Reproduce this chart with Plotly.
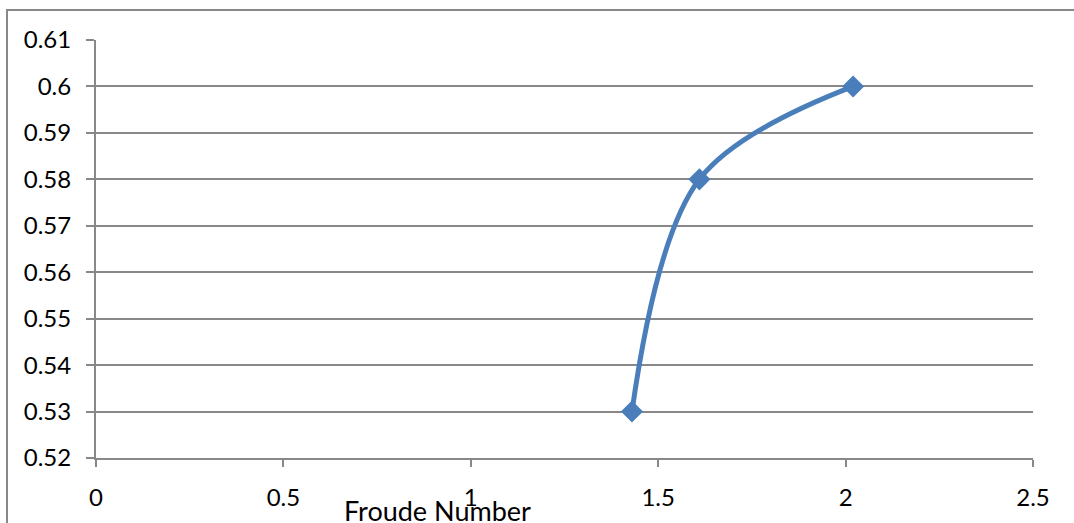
import plotly.graph_objects as go

# Froude number vs. coefficient
froude = [1.43, 1.61, 2.02]
coeff = [0.53, 0.58, 0.60]

x_ticks = [0, 0.5, 1, 1.5, 2, 2.5]
x_labels = ["0", "0.5", "1", "1.5", "2", "2.5"]
y_ticks = [0.52, 0.53, 0.54, 0.55, 0.56, 0.57, 0.58, 0.59, 0.60, 0.61]
y_labels = ["0.52", "0.53", "0.54", "0.55", "0.56", "0.57", "0.58", "0.59", "0.6", "0.61"]

W, H = 1074, 523
L, R, T, B = 96, 41, 40, 65
pw, ph = W - L - R, H - T - B

fig = go.Figure()
fig.add_trace(go.Scatter(
    x=froude, y=coeff, mode="lines+markers",
    line=dict(color="#4A7EBB", width=5, shape="spline", smoothing=1.0),
    marker=dict(symbol="diamond", size=17, color="#4A7EBB"),
    showlegend=False, cliponaxis=False,
))

grid = "#888888"
fam = "Lato, Open Sans, sans-serif"
tickfont = dict(family=fam, size=24, color="#000000")

fig.update_layout(
    width=W, height=H,
    margin=dict(l=L, r=R, t=T, b=B),
    paper_bgcolor="white", plot_bgcolor="white",
    font=tickfont,
    xaxis=dict(
        range=[0, 2.5], tickvals=x_ticks, ticktext=x_labels, tickfont=tickfont,
        showgrid=False, zeroline=False,
        showline=True, linecolor=grid, linewidth=2,
        ticks="outside", ticklen=7, tickwidth=2, tickcolor=grid,
        ticklabelstandoff=10,
    ),
    yaxis=dict(
        range=[0.52, 0.61], tickvals=y_ticks, ticktext=y_labels, tickfont=tickfont,
        showgrid=True, gridcolor=grid, gridwidth=2,
        zeroline=False,
        showline=True, linecolor=grid, linewidth=2,
        ticks="outside", ticklen=8, tickwidth=2, tickcolor=grid,
        ticklabelstandoff=10,
    ),
    annotations=[dict(
        text="Froude Number", xref="paper", yref="paper",
        x=(437 - L) / pw, y=-(510 - (H - B)) / ph,
        xanchor="center", yanchor="middle", showarrow=False,
        font=dict(family=fam, size=27, color="#000000"),
    )],
    shapes=[dict(
        type="rect", xref="paper", yref="paper",
        x0=(7 - L) / pw, x1=(W + 5 - L) / pw,
        y0=-(B + 5) / ph, y1=1 + (T - 10) / ph,
        line=dict(color=grid, width=2), fillcolor="rgba(0,0,0,0)",
        layer="below",
    )],
)

fig.write_html("out.html")
